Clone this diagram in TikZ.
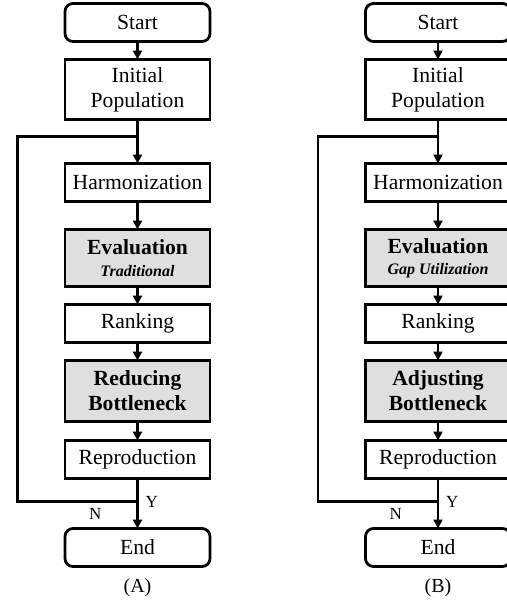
\documentclass[tikz,border=0pt]{standalone}
\usepackage{fontspec}
\setmainfont{Liberation Serif}
\usepackage{xcolor}
\usetikzlibrary{shapes,arrows.meta,positioning}

\begin{document}
\begin{tikzpicture}[
    x=0.5pt, y=-0.5pt,
    node distance=9pt,
    every node/.style={outer sep=0pt},
    procbox/.style={rectangle, draw, line width=1.4pt, fill=white,
                    minimum width=72.5pt, minimum height=19pt,
                    align=center, inner sep=1pt,
                    font=\fontsize{10.8}{12.6}\selectfont},
    termbox/.style={procbox, rounded corners=4pt},
    keybox/.style={procbox, fill=gray!25,
                   font=\fontsize{10.8}{12.6}\selectfont\bfseries},
    arrow/.style={-{Triangle[length=4.5pt, width=4.5pt]}, line width=1.1pt},
    loopline/.style={line width=1.1pt},
    tag/.style={inner sep=0pt, font=\fontsize{8.5}{10}\selectfont}
]
\clip (0,0) rectangle (507,600);

% (A) traditional
\node[termbox] (startA) at (137.5,22.5) {Start};
\node[procbox, minimum height=30pt, below=of startA] (initA) {Initial\\Population};
\node[procbox, below=22pt of initA] (harmA) {Harmonization};
\node[keybox, minimum height=28.5pt, below=14pt of harmA] (evalA)
    {Evaluation\\[-2pt]{\fontsize{8}{9}\selectfont\itshape Traditional}};
\node[procbox, below=of evalA] (rankA) {Ranking};
\node[keybox, minimum height=30.5pt, below=of rankA] (redA) {Reducing\\Bottleneck};
\node[procbox, below=9.5pt of redA] (reproA) {Reproduction};
\node[termbox, below=25pt of reproA] (endA) {End};
\node[tag, font=\fontsize{10}{12}\selectfont, below=6pt of endA] (capA) {(A)};

\coordinate[below=8.5pt of initA] (jtopA);
\coordinate[below=11.5pt of reproA] (jbotA);
\coordinate[left=60pt of jtopA] (ctopA);
\coordinate[left=60pt of jbotA] (cbotA);

\draw[arrow] (startA) -- (initA);
\draw[arrow] (initA) -- (harmA);
\draw[arrow] (harmA) -- (evalA);
\draw[arrow] (evalA) -- (rankA);
\draw[arrow] (rankA) -- (redA);
\draw[arrow] (redA) -- (reproA);
\draw[arrow] (reproA) -- (endA);
\draw[loopline] (jbotA) -- (cbotA) -- (ctopA) -- (jtopA);
\node[tag, right=4pt of jbotA] (yesA) {Y};
\node[tag, below left=3.5pt and 18pt of jbotA] (noA) {N};

% (B) gap utilization
\node[termbox] (startB) at (438,22.5) {Start};
\node[procbox, minimum height=30pt, below=of startB] (initB) {Initial\\Population};
\node[procbox, below=22pt of initB] (harmB) {Harmonization};
\node[keybox, minimum height=28.5pt, below=14pt of harmB] (evalB)
    {Evaluation\\[-2pt]{\fontsize{8}{9}\selectfont\itshape Gap Utilization}};
\node[procbox, below=of evalB] (rankB) {Ranking};
\node[keybox, minimum height=30.5pt, below=of rankB] (adjB) {Adjusting\\Bottleneck};
\node[procbox, below=9.5pt of adjB] (reproB) {Reproduction};
\node[termbox, below=25pt of reproB] (endB) {End};
\node[tag, font=\fontsize{10}{12}\selectfont, below=6pt of endB] (capB) {(B)};

\coordinate[below=8.5pt of initB] (jtopB);
\coordinate[below=11.5pt of reproB] (jbotB);
\coordinate[left=60pt of jtopB] (ctopB);
\coordinate[left=60pt of jbotB] (cbotB);

\draw[arrow] (startB) -- (initB);
\draw[arrow] (initB) -- (harmB);
\draw[arrow] (harmB) -- (evalB);
\draw[arrow] (evalB) -- (rankB);
\draw[arrow] (rankB) -- (adjB);
\draw[arrow] (adjB) -- (reproB);
\draw[arrow] (reproB) -- (endB);
\draw[loopline] (jbotB) -- (cbotB) -- (ctopB) -- (jtopB);
\node[tag, right=4pt of jbotB] (yesB) {Y};
\node[tag, below left=3.5pt and 18pt of jbotB] (noB) {N};
\end{tikzpicture}
\end{document}
